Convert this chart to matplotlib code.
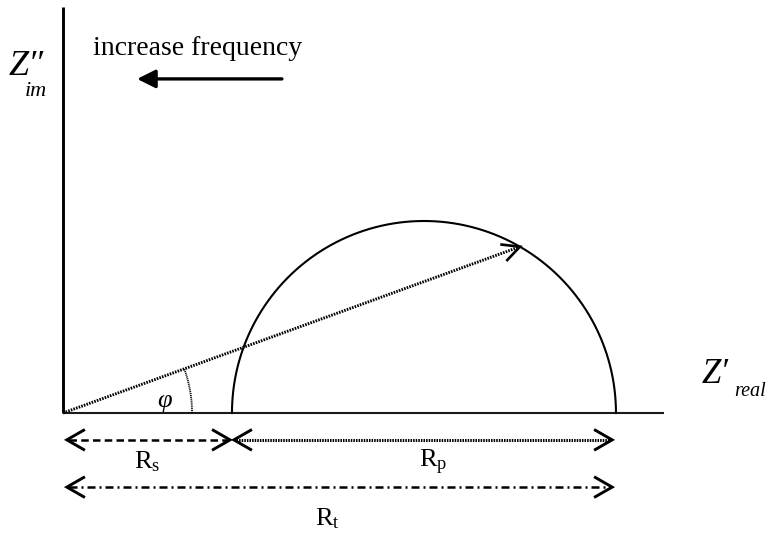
import numpy as np
import matplotlib
matplotlib.use("Agg")
import matplotlib.pyplot as plt
from matplotlib.transforms import IdentityTransform

plt.rcParams['font.family'] = ['Liberation Serif', 'DejaVu Serif']
plt.rcParams['mathtext.fontset'] = 'custom'
plt.rcParams['mathtext.rm'] = 'Liberation Serif'
plt.rcParams['mathtext.it'] = 'Liberation Serif:italic'
plt.rcParams['mathtext.bf'] = 'Liberation Serif:bold'

# Equivalent-circuit parameters (arbitrary resistance units)
R_s = 44.0          # series resistance
R_p = 100.0         # polarisation resistance
phi_deg = 20.0      # phase angle of the drawn impedance vector
x_axis_len = 156.5
y_axis_len = 105.7

# Label texts
label_rs = r'$\mathrm{R_s}$'
label_rp = r'$\mathrm{R_p}$'
label_rt = r'$\mathrm{R_t}$'
label_freq = 'increase frequency'
label_phi = 'φ'

W, H = 767, 533
fig = plt.figure(figsize=(W / 100, H / 100), dpi=100)
ax = fig.add_axes([0, 0, 1, 1])
ax.set_xlim(-16.41, 183.33)
ax.set_ylim(-31.25, 107.55)
ax.axis('off')

PIX = IdentityTransform()


def at(px, py):
    """Pixel position measured from the top-left corner of the canvas."""
    return px, H - py


def open_head(ax, tip, angle, length=4.7, half_width=2.7, lw=2.1):
    """Draw an open 'V' arrow head whose point sits at tip, pointing along angle."""
    tx, ty = tip
    c, s = np.cos(angle), np.sin(angle)
    bx, by = tx - length * c, ty - length * s
    px, py = -s * half_width, c * half_width
    ax.plot([bx + px, tx, bx - px], [by + py, ty, by - py], color='black',
            lw=lw, solid_joinstyle='miter', solid_capstyle='butt')


def double_arrow(ax, x0, x1, y, linestyle, lw):
    ax.plot([x0 + 0.6, x1 - 0.6], [y, y], color='black', lw=lw, linestyle=linestyle,
            dash_capstyle='butt')
    open_head(ax, (x0, y), np.pi)
    open_head(ax, (x1, y), 0.0)


# Coordinate axes
ax.plot([0, 0], [0, y_axis_len], color='black', lw=2.1, solid_capstyle='butt')
ax.plot([0, x_axis_len], [0, 0], color='#1a1a1a', lw=1.5, solid_capstyle='butt')

# Semicircle of the parallel RC element
centre = R_s + R_p / 2.0
radius = R_p / 2.0
theta = np.linspace(0, np.pi, 400)
ax.plot(centre + radius * np.cos(theta), radius * np.sin(theta), color='black', lw=1.5)

# Impedance vector from the origin to the far side of the arc
phi = np.radians(phi_deg)
proj = centre * np.cos(phi)
t_far = proj + np.sqrt(proj ** 2 - (centre ** 2 - radius ** 2))
tip = (t_far * np.cos(phi), t_far * np.sin(phi))
ax.plot([0, tip[0] - 0.5 * np.cos(phi)], [0, tip[1] - 0.5 * np.sin(phi)],
        color='black', lw=2.1, linestyle=(0, (0.55, 0.4)), dash_capstyle='butt')
open_head(ax, tip, phi, length=4.6, half_width=2.3, lw=1.9)

# Phase-angle arc
arc_r = 33.6
a = np.linspace(0, phi, 60)
ax.plot(arc_r * np.cos(a), arc_r * np.sin(a), color='black', lw=1.3,
        linestyle=(0, (0.6, 0.45)), dash_capstyle='butt')
ax.text(*at(165, 401), label_phi, fontsize=19, fontstyle='italic',
        ha='center', va='center', transform=PIX)

# Resistance spans below the axis
y_row1 = -7.0
y_row2 = -19.3
double_arrow(ax, 1.0, R_s - 0.5, y_row1, (0, (3.0, 1.7)), 1.8)
double_arrow(ax, R_s + 0.5, R_s + R_p - 1.0, y_row1, (0, (0.5, 0.35)), 2.2)
double_arrow(ax, 1.0, R_s + R_p - 1.0, y_row2, (0, (3.2, 1.6, 0.8, 1.6)), 1.8)

ax.text(R_s / 2.0, -12.8, label_rs, fontsize=19, ha='center', va='center')
ax.text(R_s + R_p / 2.0 + 2.4, -12.8, label_rp, fontsize=19, ha='center', va='center')
ax.text((R_s + R_p) / 2.0 - 3.2, -27.6, label_rt, fontsize=19, ha='center', va='center')

# Axis titles: italic Z with primes and an italic subscript
ax.text(*at(9, 75), 'Z″', fontsize=26, fontstyle='italic', ha='left',
        va='baseline', transform=PIX)
ax.text(*at(25, 96), 'im', fontsize=16, fontstyle='italic', ha='left',
        va='baseline', transform=PIX)
ax.text(*at(702, 383), 'Z′', fontsize=25, fontstyle='italic', ha='left',
        va='baseline', transform=PIX)
ax.text(*at(734, 396), 'real', fontsize=14.5, fontstyle='italic', ha='left',
        va='baseline', transform=PIX)

# Frequency direction note
ax.text(*at(93, 55), label_freq, fontsize=20, ha='left', va='baseline',
        transform=PIX)
ax.annotate('', xy=(19.3, 87.0), xytext=(57.0, 87.0),
            arrowprops=dict(arrowstyle='-|>,head_length=1.1,head_width=0.55',
                            color='black', lw=2.4, shrinkA=0, shrinkB=0))

fig.savefig('out.png', dpi=100)
